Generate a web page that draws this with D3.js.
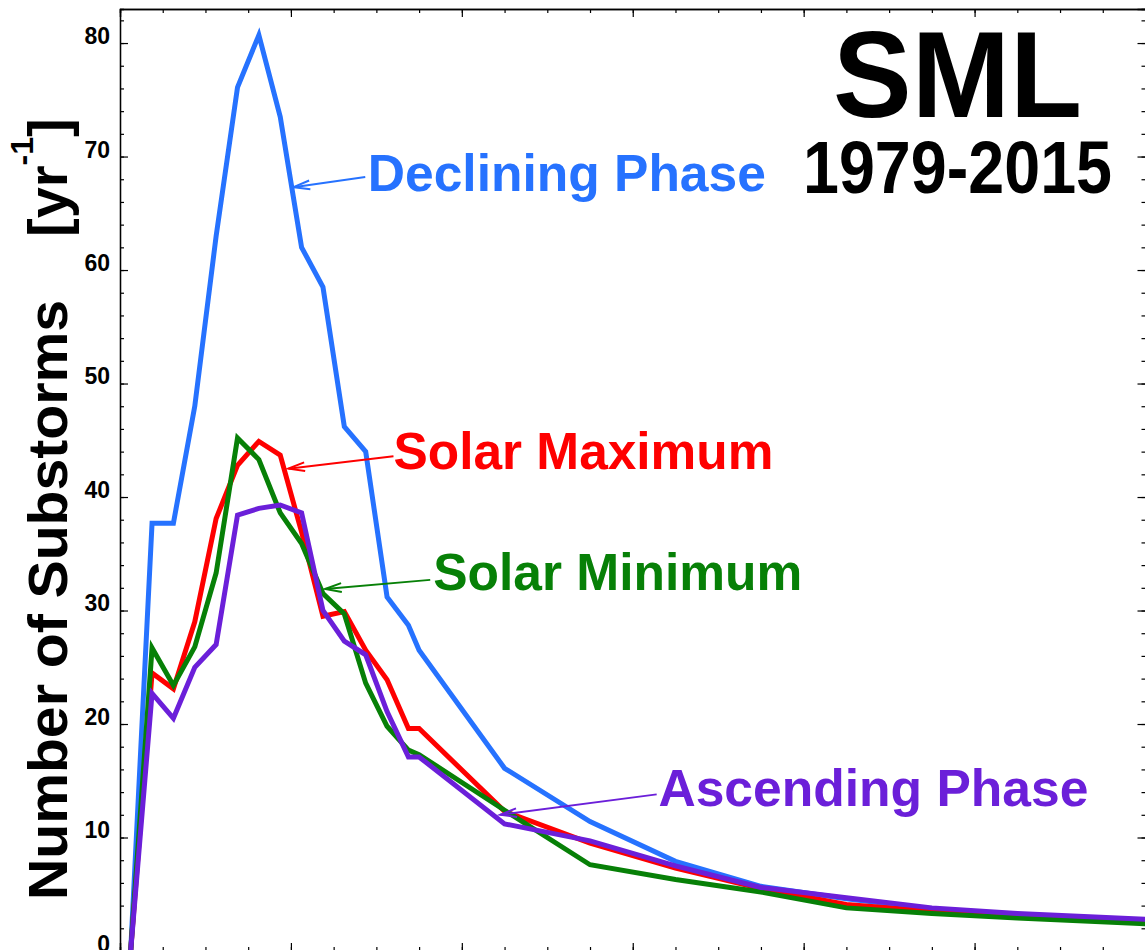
<!DOCTYPE html>
<html>
<head>
<meta charset="utf-8">
<script src="https://cdn.jsdelivr.net/npm/d3@7"></script>
<style>
  html, body { margin: 0; padding: 0; background: #fff; }
  svg text { font-family: "Liberation Sans", Arial, Helvetica, sans-serif; font-weight: bold; }
</style>
</head>
<body>
<svg id="chart" width="1145" height="950"></svg>
<script>
// bin centres along x (the x tick labels are cut off in the source picture)
var xBins = [12.5, 37.5, 62.5, 87.5, 112.5, 137.5, 162.5, 187.5, 212.5, 237.5, 262.5, 287.5, 312.5, 337.5, 350,
             450, 550, 650, 750, 850, 950, 1050, 1200];

// number of substorms per year, one array per solar cycle phase
var declining = [0, 37.7, 37.7, 48.0, 63.0, 76.1, 80.7, 73.5, 62.0, 58.5, 46.2, 44.0, 31.2, 28.7, 26.5,
                 16.1, 11.4, 7.9, 5.7, 4.6, 3.7, 3.2, 2.7];
var solarMax  = [0, 24.5, 23.1, 29.0, 38.1, 42.8, 44.9, 43.7, 36.9, 29.5, 29.9, 26.5, 23.9, 19.6, 19.6,
                 12.3, 9.5, 7.3, 5.5, 4.1, 3.5, 3.1, 2.6];
var solarMin  = [0, 26.7, 23.4, 26.8, 33.3, 45.2, 43.3, 38.6, 35.9, 31.5, 29.7, 23.6, 19.8, 17.7, 17.3,
                 12.4, 7.6, 6.3, 5.2, 3.8, 3.3, 2.9, 2.4];
var ascending = [0, 22.7, 20.5, 25.0, 27.0, 38.4, 39.0, 39.3, 38.6, 30.0, 27.3, 26.1, 21.1, 17.1, 17.1,
                 11.2, 9.7, 7.5, 5.6, 4.7, 3.8, 3.3, 2.8];

var yMajorTicks = [0, 10, 20, 30, 40, 50, 60, 70, 80];
var yMinorTicks = d3.range(0, 84, 2);
var xMajorTicks = [0, 200, 400, 600, 800, 1000, 1200];
var xMinorTicks = d3.range(0, 1201, 50);

var blue = "#2672ff", red = "#fe0000", green = "#078007", purple = "#6b1fd9";

var series = [
  {name: "Declining Phase", values: declining, color: blue},
  {name: "Solar Maximum",   values: solarMax,  color: red},
  {name: "Solar Minimum",   values: solarMin,  color: green},
  {name: "Ascending Phase", values: ascending, color: purple}
];

// label + arrow annotations, in data units
var notes = [
  {text: "Declining Phase", color: blue,   x: 290,   y: 67.0, tail: [287, 68.2], tip: [203, 67.3], len: 398},
  {text: "Solar Maximum",   color: red,    x: 320,   y: 42.5, tail: [320, 43.6], tip: [197, 42.5], len: 380},
  {text: "Solar Minimum",   color: green,  x: 366.5, y: 31.8, tail: [363, 32.7], tip: [240, 31.9], len: 369},
  {text: "Ascending Phase", color: purple, x: 630,   y: 12.8, tail: [628, 13.8], tip: [445, 12.0], len: 430}
];

var W = 1145, H = 950;

var x = d3.scaleLinear().domain([0, 1200]).range([120, 1145.5]);
var y = d3.scaleLinear().domain([0, 83]).range([951, 9]);

var svg = d3.select("#chart");
svg.append("rect").attr("width", W).attr("height", H).attr("fill", "#fff");

svg.append("defs").append("clipPath").attr("id", "plot")
  .append("rect")
  .attr("x", x(0)).attr("y", y(83))
  .attr("width", x(1200) - x(0)).attr("height", y(0) - y(83));

// curves
var line = d3.line()
  .x(function (d, i) { return x(xBins[i]); })
  .y(function (d) { return y(d); });

svg.append("g").attr("clip-path", "url(#plot)")
  .selectAll("path")
  .data(series)
  .enter()
  .append("path")
  .attr("fill", "none")
  .attr("stroke", function (d) { return d.color; })
  .attr("stroke-width", 5)
  .attr("stroke-linejoin", "miter")
  .attr("d", function (d) { return line(d.values); });

// frame ticks, all pointing inward
function styleAxis(g) {
  g.select(".domain").attr("stroke", "#000").attr("stroke-width", 1.3);
  g.selectAll(".tick line").attr("stroke", "#000").attr("stroke-width", 1.2);
}

svg.append("g")
  .attr("transform", "translate(" + x(0) + ",0)")
  .call(d3.axisRight(y).tickValues(yMinorTicks).tickSize(4).tickFormat(""))
  .call(styleAxis);
svg.append("g")
  .attr("transform", "translate(" + x(0) + ",0)")
  .call(d3.axisLeft(y).tickValues(yMajorTicks).tickSizeInner(-8).tickSizeOuter(0).tickPadding(10))
  .call(styleAxis)
  .call(function (g) {
    g.selectAll(".tick text")
      .attr("dy", "0.02em")
      .attr("fill", "#000")
      .style("font-size", "23px");
  });

svg.append("g")
  .attr("transform", "translate(" + x(1200) + ",0)")
  .call(d3.axisLeft(y).tickValues(yMinorTicks).tickSize(4).tickFormat(""))
  .call(styleAxis);
svg.append("g")
  .attr("transform", "translate(" + x(1200) + ",0)")
  .call(d3.axisLeft(y).tickValues(yMajorTicks).tickSize(8).tickFormat(""))
  .call(styleAxis);

[[d3.axisBottom, y(83)], [d3.axisTop, y(0)]].forEach(function (a) {
  svg.append("g")
    .attr("transform", "translate(0," + a[1] + ")")
    .call(a[0](x).tickValues(xMinorTicks).tickSize(4).tickFormat(""))
    .call(styleAxis);
  svg.append("g")
    .attr("transform", "translate(0," + a[1] + ")")
    .call(a[0](x).tickValues(xMajorTicks).tickSize(8).tickFormat(""))
    .call(styleAxis);
});

// labels with arrows
notes.forEach(function (n) {
  var tx = x(n.tip[0]), ty = y(n.tip[1]),
      sx = x(n.tail[0]), sy = y(n.tail[1]);
  var ang = Math.atan2(sy - ty, sx - tx), L = 17, spread = 15 * Math.PI / 180;
  svg.append("line")
    .attr("x1", sx).attr("y1", sy).attr("x2", tx).attr("y2", ty)
    .attr("stroke", n.color).attr("stroke-width", 2);
  svg.append("path")
    .attr("d", "M" + (tx + L * Math.cos(ang - spread)) + "," + (ty + L * Math.sin(ang - spread)) +
               "L" + tx + "," + ty +
               "L" + (tx + L * Math.cos(ang + spread)) + "," + (ty + L * Math.sin(ang + spread)))
    .attr("fill", "none").attr("stroke", n.color).attr("stroke-width", 2);
  svg.append("text")
    .attr("x", x(n.x)).attr("y", y(n.y))
    .attr("textLength", n.len).attr("lengthAdjust", "spacingAndGlyphs")
    .style("font-size", "52px")
    .attr("fill", n.color)
    .text(n.text);
});

// title block
svg.append("text")
  .attr("x", 833).attr("y", 117)
  .attr("textLength", 249).attr("lengthAdjust", "spacingAndGlyphs")
  .style("font-size", "122px")
  .attr("fill", "#000")
  .text("SML");
svg.append("text")
  .attr("x", 803).attr("y", 193)
  .attr("textLength", 309).attr("lengthAdjust", "spacingAndGlyphs")
  .style("font-size", "74px")
  .attr("fill", "#000")
  .text("1979-2015");

// y axis title
svg.append("text")
  .attr("transform", "translate(67,900) rotate(-90)")
  .attr("textLength", 600).attr("lengthAdjust", "spacingAndGlyphs")
  .style("font-size", "56px")
  .attr("fill", "#000")
  .text("Number of Substorms");

var unit = svg.append("text")
  .attr("transform", "translate(67,237) rotate(-90)")
  .style("font-size", "56px")
  .attr("fill", "#000");
unit.append("tspan").text("[yr");
unit.append("tspan").attr("dy", -34).style("font-size", "32px").text("-1");
unit.append("tspan").attr("dy", 34).text("]");
</script>
</body>
</html>
